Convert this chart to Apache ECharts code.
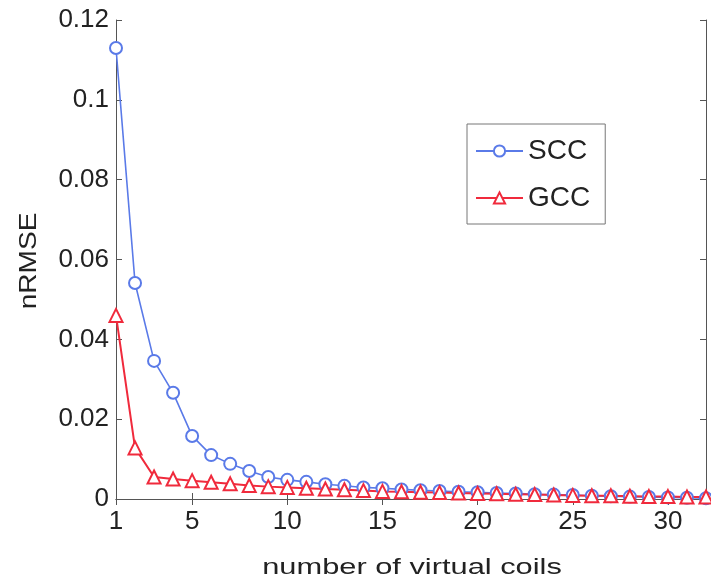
<!DOCTYPE html>
<html>
<head>
<meta charset="utf-8">
<script src="https://cdn.jsdelivr.net/npm/echarts@6/dist/echarts.min.js"></script>
<style>
html, body { margin: 0; padding: 0; background: #fff; }
#main { width: 711px; height: 585px; }
</style>
</head>
<body>
<div id="main"></div>
<script>
var coils = [];
for (var i = 1; i <= 32; i++) coils.push(i);
var xTicks = [1, 5, 10, 15, 20, 25, 30];
var scc = [0.113, 0.0541, 0.0346, 0.0266, 0.0158, 0.011, 0.0088, 0.007, 0.0055, 0.0048,
    0.0043, 0.0037, 0.0033, 0.0029, 0.0027, 0.0024, 0.0022, 0.0020, 0.0018, 0.0017,
    0.0015, 0.0014, 0.0012, 0.0011, 0.0010, 0.0008, 0.0007, 0.0006, 0.0005, 0.0004,
    0.0003, 0.0002];
var gcc = [0.046, 0.0128, 0.0055, 0.0050, 0.0046, 0.0042, 0.0038, 0.0034, 0.0031, 0.0029,
    0.0027, 0.0025, 0.0023, 0.0021, 0.0019, 0.0018, 0.0017, 0.0016, 0.0015, 0.0014,
    0.0013, 0.0012, 0.0011, 0.0010, 0.0009, 0.0008, 0.0008, 0.0007, 0.0006, 0.0006,
    0.0005, 0.0005];
var xName = 'number of virtual coils';
var yName = 'nRMSE';

function pairs(vals) {
    return vals.map(function (v, k) { return [coils[k], v]; });
}

var myChart = echarts.init(document.getElementById('main'));
var font = 'Liberation Sans, Arial, sans-serif';
var axisCol = '#555';

option = {
    animation: false,
    grid: { left: 116, top: 20, right: 5, bottom: 86 },
    // axis titles are drawn stretched, like the original figure
    graphic: [{
        type: 'text',
        x: 412, y: 568,
        scaleX: 1.4,
        style: { text: xName, font: '22px ' + font, fill: '#222', align: 'center', verticalAlign: 'middle' }
    }, {
        type: 'text',
        x: 29, y: 261,
        rotation: Math.PI / 2,
        scaleX: 1.17,
        style: { text: yName, font: '24px ' + font, fill: '#222', align: 'center', verticalAlign: 'middle' }
    }],
    legend: {
        orient: 'vertical',
        left: 467,
        top: 124,
        padding: [13, 15, 12, 8],
        itemGap: 19,
        itemWidth: 47,
        itemHeight: 14,
        borderColor: '#777',
        borderWidth: 1,
        backgroundColor: '#fff',
        textStyle: { fontFamily: font, fontSize: 28, color: '#222', padding: [0, 0, 0, 0] },
        data: ['SCC', 'GCC']
    },
    xAxis: [{
        type: 'value',
        min: 1,
        max: 32,
        axisLine: { lineStyle: { color: axisCol, width: 1 } },
        axisTick: { inside: true, length: 6, customValues: xTicks, lineStyle: { color: axisCol } },
        axisLabel: { customValues: xTicks, fontFamily: font, fontSize: 26, color: '#222', margin: 10 },
        splitLine: { show: false }
    }, {
        type: 'value',
        position: 'top',
        min: 1,
        max: 32,
        axisLine: { show: true, lineStyle: { color: axisCol, width: 1 } },
        axisTick: { inside: true, length: 6, customValues: xTicks, lineStyle: { color: axisCol } },
        axisLabel: { show: false },
        splitLine: { show: false }
    }],
    yAxis: [{
        type: 'value',
        min: 0,
        max: 0.12,
        interval: 0.02,
        axisLine: { show: true, lineStyle: { color: axisCol, width: 1 } },
        axisTick: { inside: true, length: 6, lineStyle: { color: axisCol } },
        axisLabel: { fontFamily: font, fontSize: 26, color: '#222', margin: 7 },
        splitLine: { show: false }
    }, {
        type: 'value',
        position: 'right',
        min: 0,
        max: 0.12,
        interval: 0.02,
        axisLine: { show: true, lineStyle: { color: axisCol, width: 1 } },
        axisTick: { inside: true, length: 6, lineStyle: { color: axisCol } },
        axisLabel: { show: false },
        splitLine: { show: false }
    }],
    series: [{
        name: 'SCC',
        type: 'line',
        data: pairs(scc),
        symbol: 'emptyCircle',
        symbolSize: 12,
        color: '#5a7ae8',
        lineStyle: { width: 1.6 },
        itemStyle: { borderWidth: 1.6 }
    }, {
        name: 'GCC',
        type: 'line',
        data: pairs(gcc),
        symbol: 'emptyTriangle',
        symbolSize: 13,
        color: '#f02a3c',
        lineStyle: { width: 2 },
        itemStyle: { borderWidth: 1.6 }
    }]
};

myChart.setOption(option);
</script>
</body>
</html>
